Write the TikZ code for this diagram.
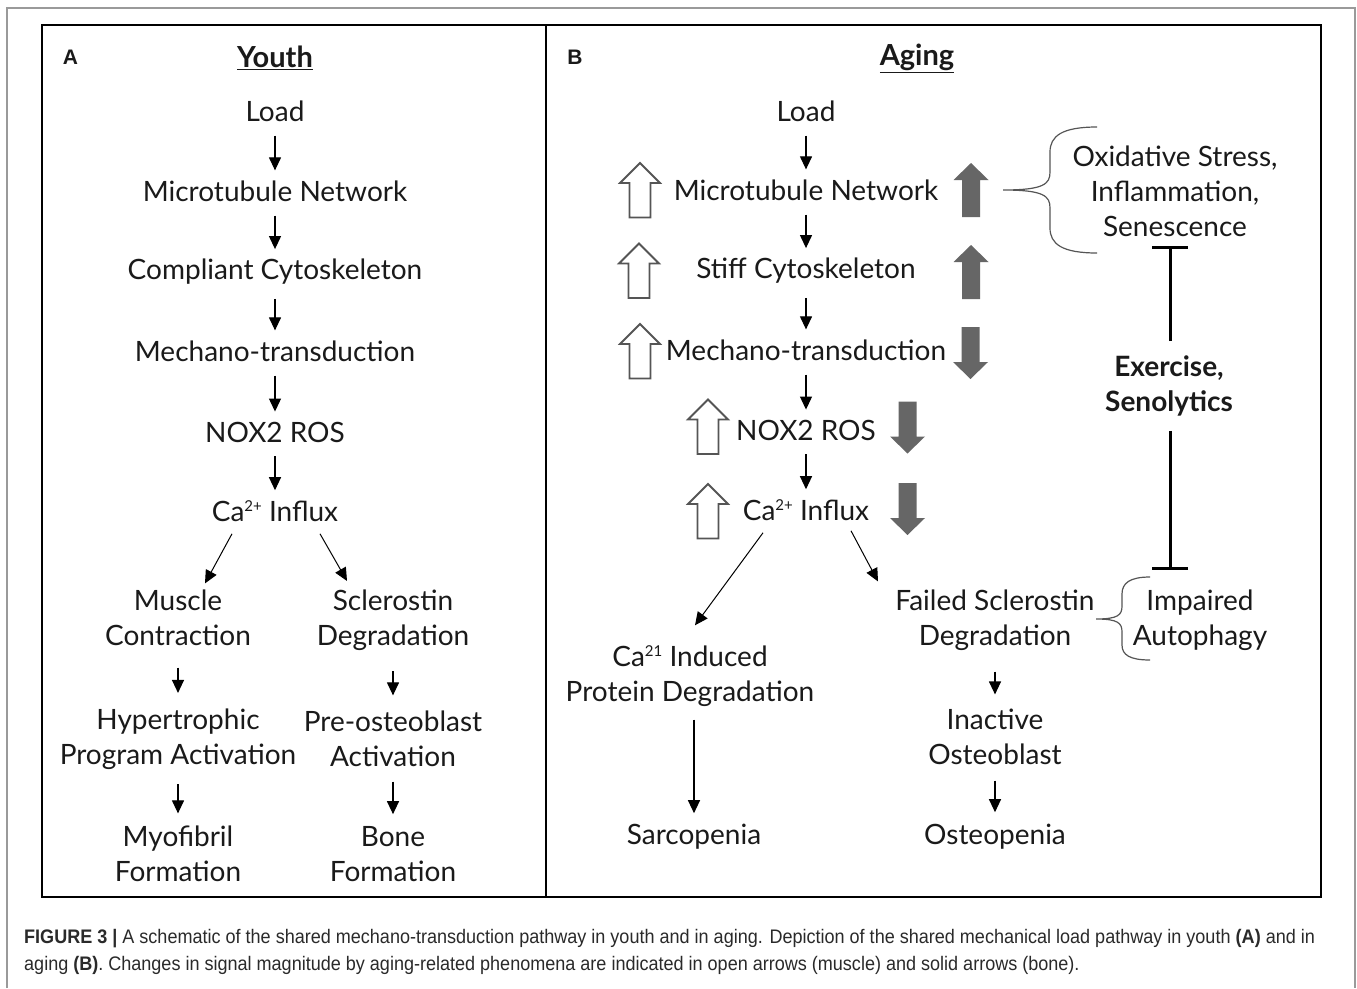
\documentclass[tikz,border=0pt]{standalone}
\usepackage{fontspec}
\setmainfont{Lato}
\newfontfamily\capfont[FakeStretch=0.92]{Liberation Sans}
\newfontfamily\labfont{Liberation Sans}
\usetikzlibrary{arrows.meta}
\definecolor{solidgray}{HTML}{666666}
\definecolor{opengray}{HTML}{555555}
\definecolor{framegray}{HTML}{9A9A9A}
\definecolor{txt}{HTML}{1A1A1A}
\definecolor{captxt}{HTML}{2A2A2A}
\newcommand\smallsup[1]{\raisebox{0.36em}{\fontsize{15}{15}\selectfont #1}}
\begin{document}
\begin{tikzpicture}[x=1pt,y=-1pt,
  t/.style={font=\fontsize{28}{35}\selectfont, inner sep=0pt, align=center, text=txt},
  hd/.style={font=\fontsize{29}{32}\selectfont\bfseries, inner sep=0pt, text=txt},
  pl/.style={font=\labfont\fontsize{21}{24}\selectfont\bfseries, inner sep=0pt, text=txt},
  va/.style={-{Triangle[length=13pt,width=12pt]}, line width=1.2pt, shorten <=14pt, shorten >=10pt},
  da/.style={-{Triangle[length=13pt,width=12pt]}, line width=1pt},
  tb/.style={-{Bar[width=36pt]}, line width=3pt},
  br/.style={line width=1.2pt, draw=opengray},
  openup/.pic={\draw[line width=1.8pt, draw=opengray, fill=white, line join=miter]
     (-10.5,27) -- (-10.5,-7.5) -- (-20,-7.5) -- (0,-27.5) -- (20,-7.5) -- (10.5,-7.5) -- (10.5,27) -- cycle;},
  solidup/.pic={\fill[solidgray]
     (-9,27) -- (-9,-10) -- (-17.5,-10) -- (0,-27) -- (17.5,-10) -- (9,-10) -- (9,27) -- cycle;},
  soliddown/.pic={\fill[solidgray]
     (-9,-26) -- (-9,9) -- (-17.5,9) -- (0,26) -- (17.5,9) -- (9,9) -- (9,-26) -- cycle;}
]
\useasboundingbox (0,0) rectangle (1357,988);
\fill[white] (0,0) rectangle (1357,988);
% frames
\draw[framegray, line width=1.3pt] (7,988) -- (7,8) -- (1355,8) -- (1355,988);
\draw[line width=2.2pt] (42,25) rectangle (1321,897);
\draw[line width=1.3pt] (546,25) -- (546,897);

% panel labels and headings
\node[pl] (labA) at (70.5,57) {A};
\node[pl] (labB) at (575,57) {B};
\node[hd] (youth) at (275,58) {\underline{Youth}};
\node[hd] (aging) at (917,58) {\underline{Aging}};

% ---------- Panel A ----------
\node[t] (aload) at (275,111) {Load};
\node[t] (amicro) at (275,191) {Microtubule Network};
\node[t] (acomp) at (275,272) {Compliant Cytoskeleton};
\node[t] (amech) at (275,351) {Mechano-transduction};
\node[t] (anox) at (275,432) {NOX2 ROS};
\node[t] (aca) at (275,511) {Ca\smallsup{2+} Influx};
\node[t] (amus) at (178,617.5) {Muscle\\Contraction};
\node[t] (ascl) at (393,620.5) {Sclerostin\\Degradation};
\node[t] (ahyp) at (178,739.5) {Hypertrophic\\Program Activation};
\node[t] (apre) at (393,738.5) {Pre-osteoblast\\Activation};
\node[t] (amyo) at (178,853.5) {Myofibril\\Formation};
\node[t] (abone) at (393,854) {Bone\\Formation};

\draw[va] (aload) -- (amicro);
\draw[va] (amicro) -- (acomp);
\draw[va] (acomp) -- (amech);
\draw[va] (amech) -- (anox);
\draw[va] (anox) -- (aca);
\draw[da] ([xshift=-43pt,yshift=-12pt]aca.south) -- ([xshift=27pt,yshift=6pt]amus.north);
\draw[da] ([xshift=45pt,yshift=-12pt]aca.south) -- ([xshift=-46pt,yshift=9pt]ascl.north);
\draw[va, shorten <=22pt, shorten >=16pt] (amus) -- (ahyp);
\draw[va, shorten <=20pt, shorten >=15pt] (ascl.south) -- (apre.north);
\draw[va, shorten <=14pt, shorten >=12pt] (ahyp) -- (amyo);
\draw[va, shorten <=15pt, shorten >=12pt] (apre) -- (abone);

% ---------- Panel B ----------
\node[t] (bload) at (806,111) {Load};
\node[t] (bmicro) at (806,190) {Microtubule Network};
\node[t] (bstiff) at (806,271) {Stiff Cytoskeleton};
\node[t] (bmech) at (806,350) {Mechano-transduction};
\node[t] (bnox) at (806,430) {NOX2 ROS};
\node[t] (bca) at (806,510) {Ca\smallsup{2+} Influx};
\node[t] (bcaind) at (690,676) {Ca\smallsup{21} Induced\\Protein Degradation};
\node[t] (bsarc) at (694,837) {Sarcopenia};
\node[t] (bfail) at (995,620) {Failed Sclerostin\\Degradation};
\node[t] (binact) at (995,736.5) {Inactive\\Osteoblast};
\node[t] (bosteo) at (995,837) {Osteopenia};

\draw[va] (bload) -- (bmicro);
\draw[va] (bmicro) -- (bstiff);
\draw[va] (bstiff) -- (bmech);
\draw[va] (bmech) -- (bnox);
\draw[va] (bnox) -- (bca);
\draw[da] ([xshift=-43pt,yshift=-12pt]bca.south) -- ([xshift=5pt,yshift=20pt]bcaind.north);
\draw[da] ([xshift=45pt,yshift=-10pt]bca.south) -- ([xshift=-117pt,yshift=8pt]bfail.north);
\draw[va, shorten <=13pt, shorten >=11pt] ([xshift=4pt]bcaind.south) -- (bsarc.north);
\draw[va, shorten <=21pt, shorten >=14pt] (bfail) -- (binact);
\draw[va, shorten <=16pt, shorten >=12pt] (binact) -- (bosteo);

% open (muscle) arrows
\pic at (640,190.5) {openup};
\pic at (639,271) {openup};
\pic at (640,351.5) {openup};
\pic at (708,427) {openup};
\pic at (708,511.5) {openup};
% solid (bone) arrows
\pic at (971,190) {solidup};
\pic at (971,272) {solidup};
\pic at (970.5,353) {soliddown};
\pic at (907.5,427.5) {soliddown};
\pic at (907.5,509) {soliddown};

% ---------- right side ----------
\node[t] (ox) at (1175,191) {Oxidative Stress,\\Inflammation,\\Senescence};
\node[t, font=\fontsize{28}{35}\selectfont\bfseries] (ex) at (1169,385.5) {Exercise,\\Senolytics};
\node[t] (imp) at (1200,620) {Impaired\\Autophagy};

\draw[tb, shorten <=14pt] ([xshift=1pt]ex.north) -- ([xshift=1pt,yshift=-9pt]ex.north |- ox.south);
\draw[tb, shorten <=15pt] ([xshift=1pt]ex.south) -- ([xshift=1pt,yshift=19pt]ex.south |- imp.north);

% braces
\draw[br] (1097,127) .. controls (1062,127) and (1050,136) .. (1050,152)
  -- (1050,172) .. controls (1050,184) and (1044,190) .. (1003,190)
  .. controls (1044,190) and (1050,196) .. (1050,208)
  -- (1050,228) .. controls (1050,244) and (1062,253) .. (1097,253);
\draw[br] (1150,577) .. controls (1130,577) and (1122,583) .. (1122,594)
  -- (1122,606) .. controls (1122,615) and (1118,619) .. (1096,619)
  .. controls (1118,619) and (1122,623) .. (1122,632)
  -- (1122,645) .. controls (1122,655) and (1130,660) .. (1150,660);

% caption
\node[anchor=north west, inner sep=0pt, align=left, text=captxt,
      font=\capfont\fontsize{19.6}{27}\selectfont] (cap) at (24,929)
  {\textbf{FIGURE 3 |} A schematic of the shared mechano-transduction pathway in youth and in aging. Depiction of the shared mechanical load pathway in youth \textbf{(A)} and in\\
   aging \textbf{(B)}. Changes in signal magnitude by aging-related phenomena are indicated in open arrows (muscle) and solid arrows (bone).};
\end{tikzpicture}
\end{document}
